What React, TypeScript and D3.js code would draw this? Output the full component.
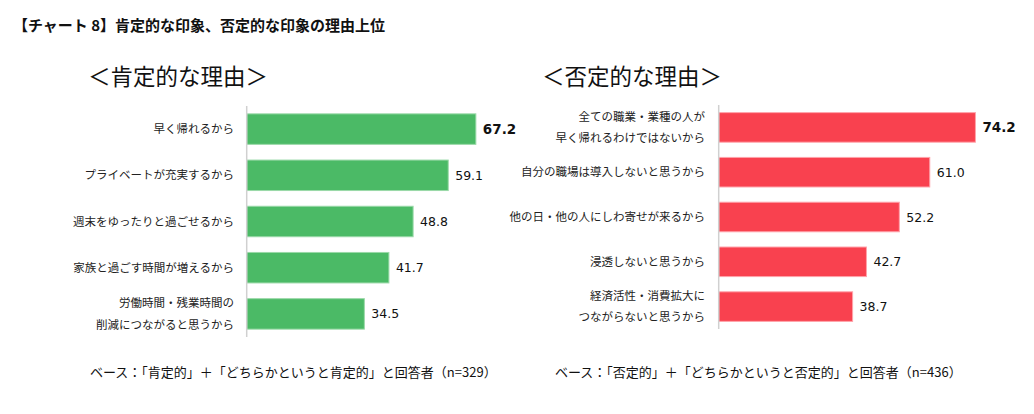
import React from "react";
import * as d3 from "d3";

const posCategories = [
  ["早く帰れるから"],
  ["プライベートが充実するから"],
  ["週末をゆったりと過ごせるから"],
  ["家族と過ごす時間が増えるから"],
  ["労働時間・残業時間の", "削減につながると思うから"],
];
const posValues = [67.2, 59.1, 48.8, 41.7, 34.5];

const negCategories = [
  ["全ての職業・業種の人が", "早く帰れるわけではないから"],
  ["自分の職場は導入しないと思うから"],
  ["他の日・他の人にしわ寄せが来るから"],
  ["浸透しないと思うから"],
  ["経済活性・消費拡大に", "つながらないと思うから"],
];
const negValues = [74.2, 61.0, 52.2, 42.7, 38.7];

const JP = "'Noto Sans CJK JP', 'Noto Sans', sans-serif";
const NUM = "'DejaVu Sans', 'Noto Sans', sans-serif";

type PanelProps = {
  cats: string[][];
  vals: number[];
  x0: number;
  x1: number;
  yTop: number;
  yBottom: number;
  fill: string;
  stroke: string;
  labelRight: number;
  title: string;
  titleX: number;
  footer: string;
  footerX: number;
};

function Panel(p: PanelProps) {
  const x = d3.scaleLinear().domain([0, 80]).range([p.x0, p.x1]);
  const y = d3
    .scaleBand<number>()
    .domain(d3.range(p.vals.length))
    .range([p.yTop, p.yBottom])
    .paddingInner(0.34)
    .paddingOuter(0.17);
  const bw = y.bandwidth();
  return (
    <g>
      <text x={p.titleX} y={85} fontFamily={JP} fontSize={22.5} fill="#111">
        {p.title}
      </text>
      {p.vals.map((v, i) => {
        const cy = (y(i) as number) + bw / 2;
        const lines = p.cats[i];
        return (
          <g key={i}>
            <rect
              x={x(0)}
              y={y(i)}
              width={x(v) - x(0)}
              height={bw}
              fill={p.fill}
              stroke={p.stroke}
              strokeWidth={1}
            />
            <text
              x={x(v) + 7}
              y={cy}
              dy="0.36em"
              fontFamily={NUM}
              fontSize={i === 0 ? 13.5 : 12.5}
              fontWeight={i === 0 ? "bold" : "normal"}
              fill="#111"
            >
              {v.toFixed(1)}
            </text>
            {lines.map((l, j) => (
              <text
                key={j}
                x={p.labelRight}
                y={cy + (j - (lines.length - 1) / 2) * 21.5}
                dy="0.36em"
                textAnchor="end"
                fontFamily={JP}
                fontSize={11.5}
                fill="#222"
              >
                {l}
              </text>
            ))}
          </g>
        );
      })}
      <line
        x1={x(0)}
        x2={x(0)}
        y1={p.yTop}
        y2={p.yBottom}
        stroke="#d0d0d0"
        strokeWidth={1.5}
      />
      <text x={p.footerX} y={377} fontFamily={JP} fontSize={13} fill="#111">
        {p.footer}
      </text>
    </g>
  );
}

export default function App() {
  return (
    <svg
      width={1034}
      height={414}
      style={{ position: "absolute", left: 0, top: 0, background: "#fff" }}
    >
      <rect width={1034} height={414} fill="#fff" />
      <text x={13} y={31} fontFamily={JP} fontSize={15} fontWeight="bold" fill="#111">
        【チャート 8】肯定的な印象、否定的な印象の理由上位
      </text>
      <Panel
        cats={posCategories}
        vals={posValues}
        x0={246.7}
        x1={519.5}
        yTop={106}
        yBottom={337}
        fill="#4BBA66"
        stroke="#9ad9a8"
        labelRight={234}
        title="＜肯定的な理由＞"
        titleX={88}
        footer="ベース：「肯定的」＋「どちらかというと肯定的」と回答者（n=329）"
        footerX={90}
      />
      <Panel
        cats={negCategories}
        vals={negValues}
        x0={718.7}
        x1={995.5}
        yTop={105}
        yBottom={329}
        fill="#F9414F"
        stroke="#ffa3aa"
        labelRight={705}
        title="＜否定的な理由＞"
        titleX={542}
        footer="ベース：「否定的」＋「どちらかというと否定的」と回答者（n=436）"
        footerX={555}
      />
    </svg>
  );
}
